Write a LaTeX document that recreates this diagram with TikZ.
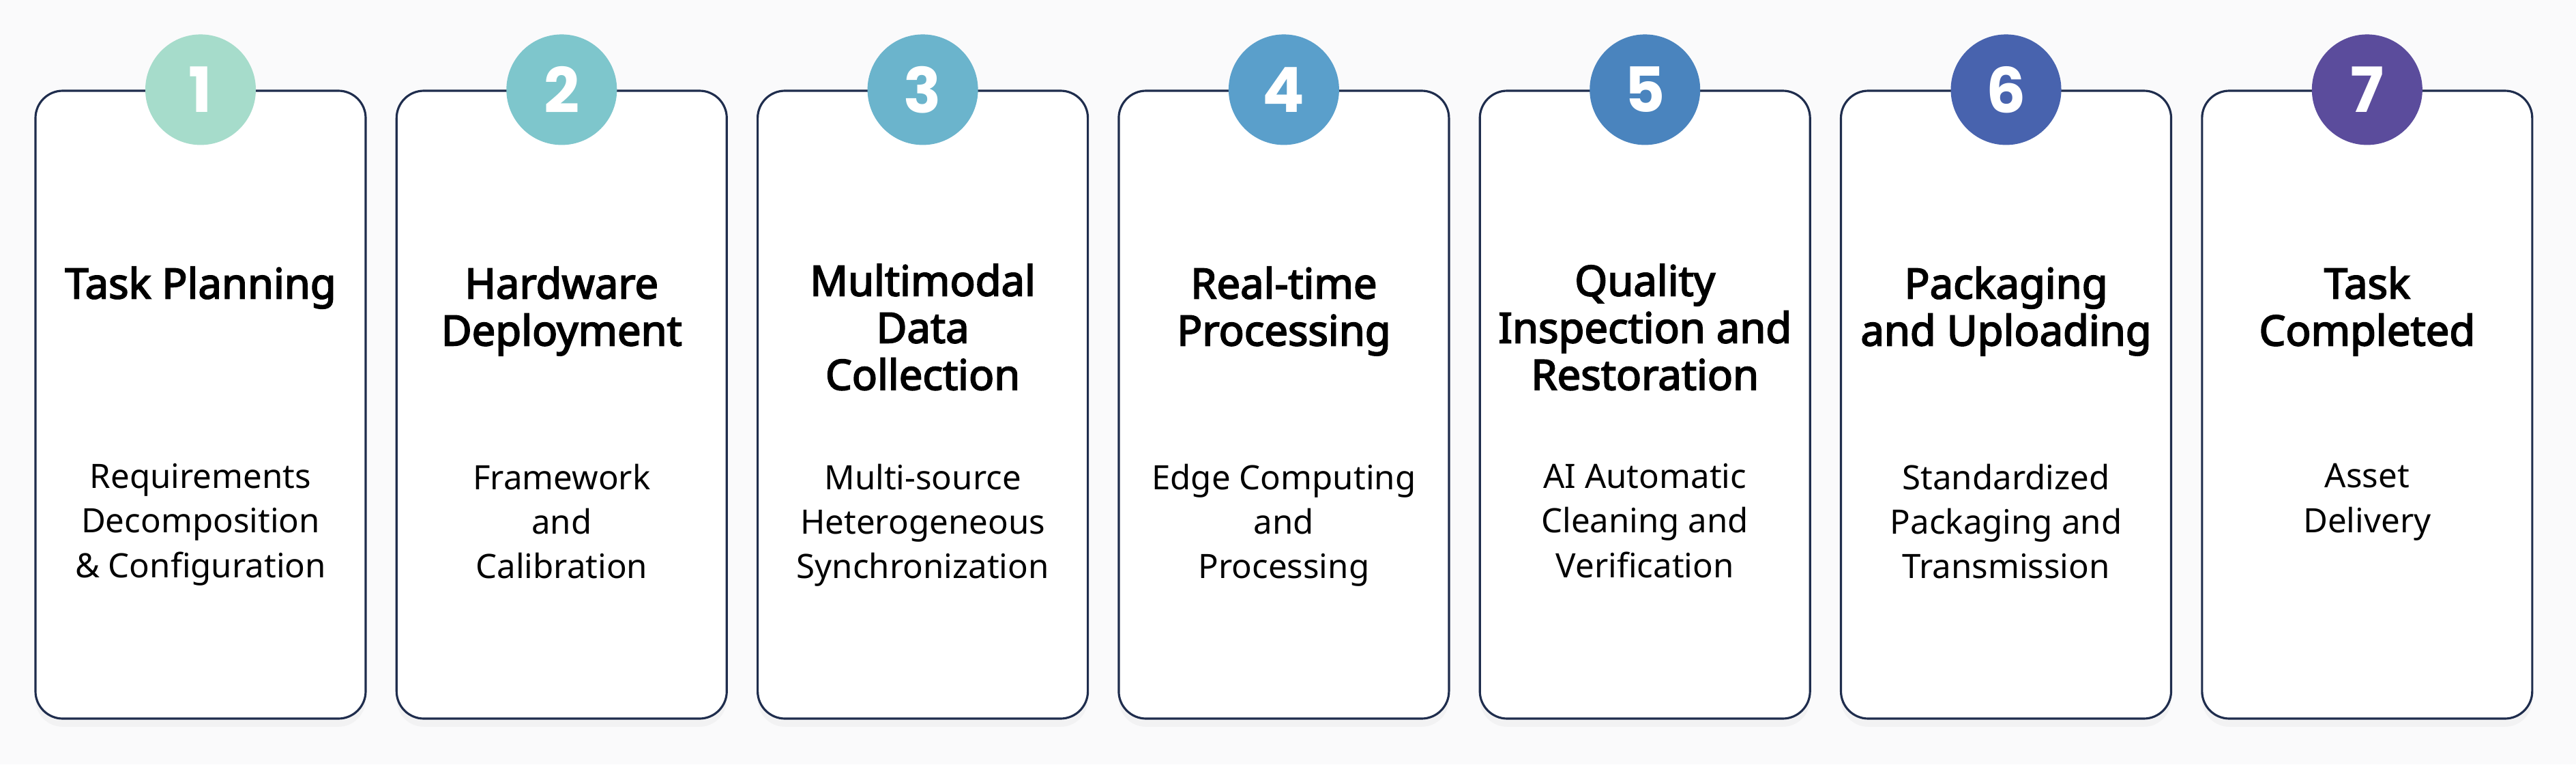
\documentclass[tikz,border=0pt]{standalone}
\usepackage{fontspec}
\setmainfont{Noto Sans}
\newfontfamily\headfont{Noto Sans}[FakeBold=3]
\newfontfamily\numfont{Poppins}
\usepackage{tikz}
\usetikzlibrary{shadows}

\definecolor{edge}{HTML}{1F2D4D}
\definecolor{paper}{HTML}{FAFAFB}
\definecolor{stepa}{HTML}{A6DCCB}
\definecolor{stepb}{HTML}{7EC6CC}
\definecolor{stepc}{HTML}{6BB4CC}
\definecolor{stepd}{HTML}{5A9FCB}
\definecolor{stepe}{HTML}{4A84BE}
\definecolor{stepf}{HTML}{4863AE}
\definecolor{stepg}{HTML}{5B4C9C}

\tikzset{
  card/.style={draw=edge, line width=0.9pt, fill=white, rounded corners=0.4cm,
    minimum width=4.84cm, minimum height=9.2cm, inner sep=0pt,
    drop shadow={shadow xshift=0cm, shadow yshift=-0.12cm, opacity=0.06}},
  num/.style={circle, minimum size=1.62cm, inner sep=0pt, text=white,
    font=\numfont\bfseries\fontsize{26}{26}\selectfont},
  title/.style={anchor=north, align=center, inner sep=0pt,
    font=\headfont\fontsize{17.5}{19.6}\selectfont},
  sub/.style={anchor=north, align=center, inner sep=0pt,
    font=\fontsize{14}{18.5}\selectfont}
}

\begin{document}
\begin{tikzpicture}
  \fill[paper] (0,0) rectangle (37.76,-11.2);
  \useasboundingbox (0,0) rectangle (37.76,-11.2);

  % the seven cards
  \node (C1) at (2.940,-5.93) [card] {};
  \node (C2) at (8.233,-5.93) [card] {};
  \node (C3) at (13.526,-5.93) [card] {};
  \node (C4) at (18.819,-5.93) [card] {};
  \node (C5) at (24.112,-5.93) [card] {};
  \node (C6) at (29.405,-5.93) [card] {};
  \node (C7) at (34.698,-5.93) [card] {};

  % step numbers sit on the top edge
  \node (N1) at (C1.north) [num, fill=stepa] {1};
  \node (N2) at (C2.north) [num, fill=stepb] {2};
  \node (N3) at (C3.north) [num, fill=stepc] {3};
  \node (N4) at (C4.north) [num, fill=stepd] {4};
  \node (N5) at (C5.north) [num, fill=stepe] {5};
  \node (N6) at (C6.north) [num, fill=stepf] {6};
  \node (N7) at (C7.north) [num, fill=stepg] {7};

  \node (T1) at (2.940,-3.90) [title] {Task Planning};
  \node (T2) at (8.233,-3.90) [title] {Hardware\\Deployment};
  \node (T3) at (13.526,-3.86) [title] {Multimodal\\Data\\Collection};
  \node (T4) at (18.819,-3.90) [title] {Real-time\\Processing};
  \node (T5) at (24.112,-3.86) [title] {Quality\\Inspection and\\Restoration};
  \node (T6) at (29.405,-3.90) [title] {Packaging\\and Uploading};
  \node (T7) at (34.698,-3.90) [title] {Task\\Completed};

  \node (S1) at (2.940,-6.79) [sub] {Requirements\\Decomposition\\\& Configuration};
  \node (S2) at (8.233,-6.79) [sub] {Framework\\and\\Calibration};
  \node (S3) at (13.526,-6.79) [sub] {Multi-source\\Heterogeneous\\Synchronization};
  \node (S4) at (18.819,-6.79) [sub] {Edge Computing\\and\\Processing};
  \node (S5) at (24.112,-6.79) [sub] {AI Automatic\\Cleaning and\\Verification};
  \node (S6) at (29.405,-6.79) [sub] {Standardized\\Packaging and\\Transmission};
  \node (S7) at (34.698,-6.79) [sub] {Asset\\Delivery};

\end{tikzpicture}
\end{document}
